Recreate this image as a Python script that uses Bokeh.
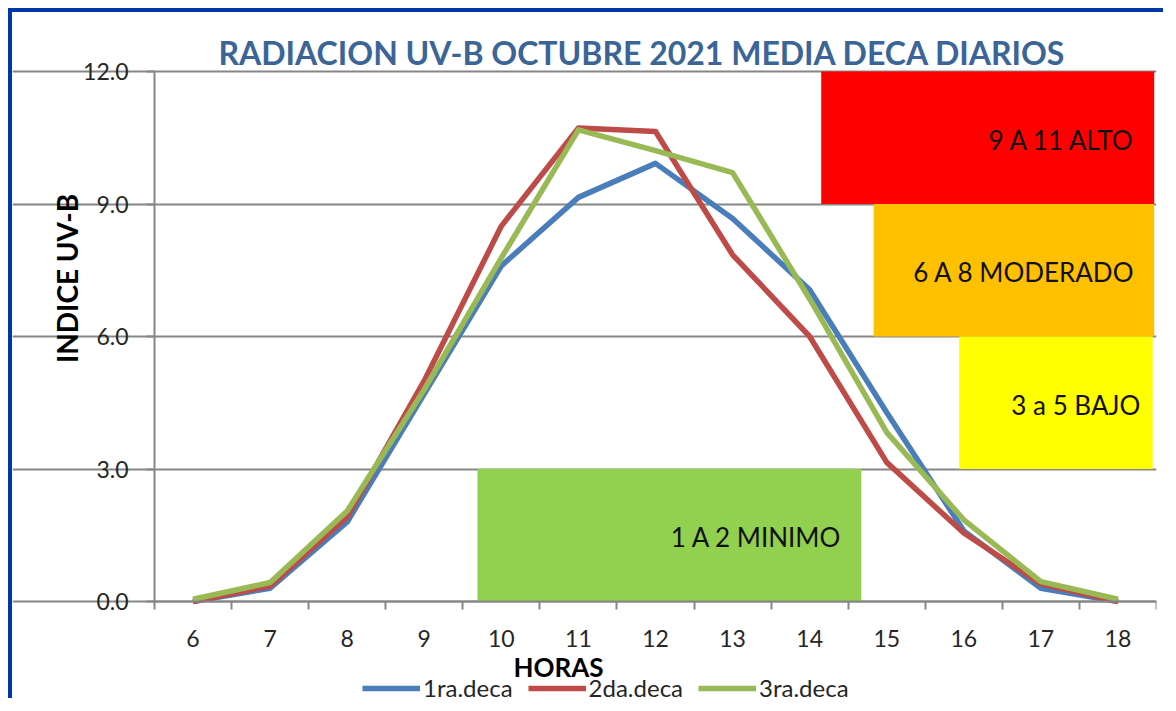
import math
from bokeh.plotting import figure
from bokeh.models import (Label, Legend, LegendItem, FixedTicker, Range1d,
                          PrintfTickFormatter, ColumnDataSource)
from bokeh.core.properties import value
from bokeh.embed import file_html
from bokeh.resources import INLINE

# ---------------- data ----------------
hours = [6, 7, 8, 9, 10, 11, 12, 13, 14, 15, 16, 17, 18]
deca1 = [0.0, 0.30, 1.80, 4.70, 7.60, 9.15, 9.92, 8.67, 7.06, 4.28, 1.60, 0.30, 0.0]
deca2 = [0.0, 0.35, 1.92, 5.00, 8.50, 10.72, 10.64, 7.85, 6.00, 3.15, 1.55, 0.40, 0.0]
deca3 = [0.05, 0.43, 2.05, 4.80, 7.78, 10.68, 10.21, 9.71, 6.85, 3.83, 1.85, 0.45, 0.05]
series_names = ["1ra.deca", "2da.deca", "3ra.deca"]
series_colors = ["#4A7EBB", "#BE4B48", "#98B954"]

yticks = [0, 3, 6, 9, 12]

band_labels = ["9 A 11  ALTO", "6 A 8  MODERADO", "3 a 5 BAJO", "1 A 2 MINIMO"]
band_low = [9, 6, 3, 0]
band_high = [12, 9, 6, 3]
band_left = [14.15, 14.83, 15.94, 9.69]
band_right = [18.47, 18.47, 18.45, 14.67]
band_colors = ["#FF0000", "#FFC000", "#FFFF00", "#92D050"]
band_text_x = [18.31, 18.31, 18.29, 14.42]

# ---------------- layout (page pixels) ----------------
W, H = 1155, 690
ORG_X, ORG_Y = 12, 12          # canvas origin on the page (8px margin + 4px frame)
AX_L, AX_R = 154, 1156         # axis span x = 5.5 .. 18.5
AX_T, AX_B = 71, 601           # y = 12 .. 0
X0, X1 = 5.5, 18.5
Y0, Y1 = 0.0, 12.0
ppx = (AX_R - AX_L) / (X1 - X0)
ppy = (AX_B - AX_T) / (Y1 - Y0)
x_start = X0 - (AX_L - ORG_X) / ppx
x_end = X1 + (ORG_X + W - 11 - AX_R) / ppx
y_start = Y0 - (ORG_Y + H - AX_B) / ppy
y_end = Y1 + (AX_T - ORG_Y) / ppy

FONT = "Lato"
GRAY = "#868686"

p = figure(width=W, height=H, x_range=Range1d(x_start, x_end),
           y_range=Range1d(y_start, y_end),
           output_backend="svg", toolbar_location=None,
           min_border_left=0, min_border_right=11, min_border_top=0,
           min_border_bottom=0)
p.styles = {"margin-left": "8px", "margin-top": "8px",
            "border-left": "4px solid #0037A8", "border-top": "4px solid #0037A8"}
p.outline_line_color = None
p.background_fill_color = "white"
p.border_fill_color = "white"

# axes (fixed at the data origin)
xa = p.xaxis[0]
xa.fixed_location = Y0
xa.bounds = (X0, X1)
xa.ticker = FixedTicker(ticks=hours, minor_ticks=[h - 0.5 for h in hours] + [18.5])
xa.major_tick_line_color = None
xa.minor_tick_line_color = GRAY
xa.minor_tick_line_width = 2
xa.minor_tick_out = 8
xa.minor_tick_in = 0
xa.axis_line_color = GRAY
xa.axis_line_width = 2
xa.major_label_text_font = FONT
xa.major_label_text_font_size = "23px"
xa.major_label_text_color = "#262626"
xa.major_label_standoff = 20

ya = p.yaxis[0]
ya.fixed_location = X0
ya.bounds = (Y0, Y1)
ya.ticker = FixedTicker(ticks=yticks)
ya.formatter = PrintfTickFormatter(format="%.1f")
ya.major_tick_line_color = GRAY
ya.major_tick_line_width = 2
ya.major_tick_out = 8
ya.major_tick_in = 0
ya.minor_tick_line_color = None
ya.axis_line_color = GRAY
ya.axis_line_width = 2
ya.major_label_text_font = FONT
ya.major_label_text_font_size = "23px"
ya.major_label_text_color = "#262626"
ya.major_label_standoff = 18

p.xgrid.visible = False
p.ygrid.ticker = FixedTicker(ticks=yticks)
p.ygrid.bounds = (X0, X1)
p.ygrid.grid_line_color = GRAY
p.ygrid.grid_line_width = 2

# bands
bsrc = ColumnDataSource(dict(left=band_left, right=band_right, bottom=band_low,
                             top=band_high, color=band_colors, label=band_labels,
                             tx=band_text_x,
                             ty=[(a + b) / 2 - 0.05 for a, b in zip(band_low, band_high)]))
p.quad(left="left", right="right", bottom="bottom", top="top", fill_color="color",
       line_color=None, source=bsrc)
p.text(x="tx", y="ty", text="label", source=bsrc, text_align="right",
       text_baseline="middle", text_font=value(FONT), text_font_size="26px",
       text_color="#111111")

# lines
renderers = []
for ys, c in zip([deca1, deca2, deca3], series_colors):
    r = p.line(hours, ys, line_color=c, line_width=5.5, line_join="round")
    renderers.append(r)

# texts / legend (screen units relative to the frame's bottom-left corner)
def sx(px):
    return px - ORG_X
def sy(py):
    return ORG_Y + H - py

legend = Legend(items=[LegendItem(label=n, renderers=[r]) for n, r in zip(series_names, renderers)],
                orientation="horizontal", location=(sx(362), sy(702)), glyph_width=58,
                glyph_height=20, label_standoff=3, spacing=15, padding=0, margin=0,
                border_line_color=None, background_fill_alpha=0,
                label_text_font=FONT, label_text_font_size="24px",
                label_text_color="#262626")
p.add_layout(legend)

p.add_layout(Label(x=sx(642), y=sy(52), x_units="screen", y_units="screen",
                   text="RADIACION UV-B OCTUBRE 2021 MEDIA DECA DIARIOS",
                   text_font=FONT, text_font_size="32px", text_font_style="bold",
                   text_color="#3A6596", text_align="center", text_baseline="middle"))
p.add_layout(Label(x=sx(66), y=sy(278), x_units="screen", y_units="screen",
                   text="INDICE UV-B", angle=math.pi / 2,
                   text_font=FONT, text_font_size="28px", text_font_style="bold",
                   text_color="#000000", text_align="center", text_baseline="middle"))
p.add_layout(Label(x=sx(558), y=sy(666), x_units="screen", y_units="screen",
                   text="HORAS",
                   text_font=FONT, text_font_size="26px", text_font_style="bold",
                   text_color="#000000", text_align="center", text_baseline="middle"))

open("out.html", "w").write(file_html(p, INLINE, title="Radiacion UV-B"))
